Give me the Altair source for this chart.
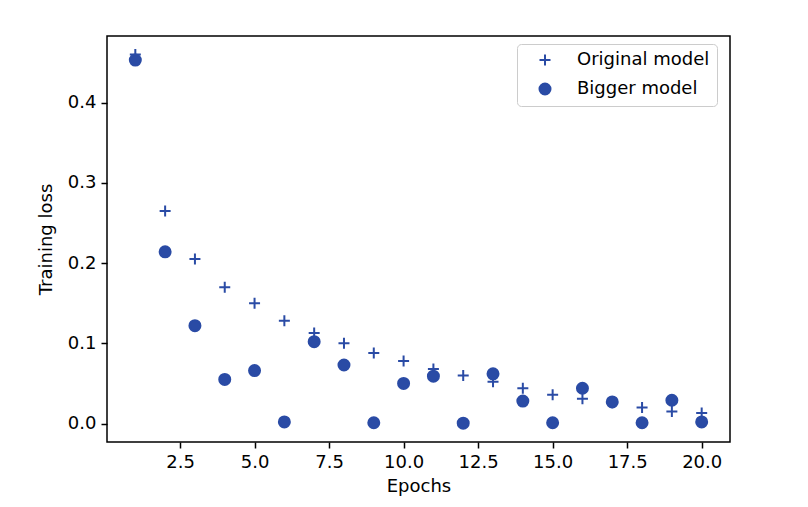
import altair as alt
import pandas as pd

epochs = list(range(1, 21))
original_loss = [0.460, 0.265, 0.205, 0.170, 0.150, 0.128, 0.113, 0.100, 0.088, 0.078,
                 0.068, 0.060, 0.052, 0.044, 0.036, 0.031, 0.026, 0.020, 0.015, 0.013]
bigger_loss = [0.453, 0.214, 0.122, 0.055, 0.066, 0.002, 0.102, 0.073, 0.001, 0.050,
               0.059, 0.0005, 0.062, 0.028, 0.001, 0.044, 0.027, 0.001, 0.029, 0.002]
series_names = ["Original model", "Bigger model"]
x_ticks = [2.5, 5.0, 7.5, 10.0, 12.5, 15.0, 17.5, 20.0]
y_ticks = [0.0, 0.1, 0.2, 0.3, 0.4]

rows = []
for e, v in zip(epochs, original_loss):
    rows.append({"Epochs": e, "loss": v, "series": series_names[0]})
for e, v in zip(epochs, bigger_loss):
    rows.append({"Epochs": e, "loss": v, "series": series_names[1]})
df = pd.DataFrame(rows)

BLUE = "#2a4ba5"
PLUS = "M-1,0L1,0M0,-1L0,1"

chart = alt.Chart(df).mark_point(filled=False, strokeWidth=2, size=121, opacity=1).encode(
    x=alt.X("Epochs:Q", title="Epochs",
            scale=alt.Scale(domain=[0.05, 20.95], nice=False, zero=False),
            axis=alt.Axis(values=x_ticks, format=".1f")),
    y=alt.Y("loss:Q", title="Training loss",
            scale=alt.Scale(domain=[-0.023, 0.483], nice=False, zero=False),
            axis=alt.Axis(values=y_ticks, format=".1f")),
    shape=alt.Shape("series:N", sort=series_names,
                    scale=alt.Scale(domain=series_names, range=[PLUS, "circle"]),
                    legend=alt.Legend(title=None)),
    fill=alt.Fill("series:N", sort=series_names,
                  scale=alt.Scale(domain=series_names, range=["transparent", BLUE]),
                  legend=alt.Legend(title=None)),
    color=alt.Color("series:N", sort=series_names,
                    scale=alt.Scale(domain=series_names, range=[BLUE, BLUE]),
                    legend=alt.Legend(title=None)),
).properties(
    width=623, height=406,
    autosize=alt.AutoSizeParams(type="none"),
    padding={"left": 107, "top": 36, "right": 78, "bottom": 65},
).configure_view(
    stroke="black", strokeWidth=1.5
).configure_axis(
    domain=False, grid=False,
    tickColor="black", tickWidth=1.5, tickSize=6,
    labelPadding=5, labelFont="DejaVu Sans", labelFontSize=18, labelColor="black",
    titleFont="DejaVu Sans", titleFontSize=18, titleFontWeight="normal", titleColor="black",
).configure_axisX(
    titlePadding=6
).configure_axisY(
    titlePadding=12
).configure_legend(
    orient="none", legendX=410, legendY=8,
    padding=7, cornerRadius=4, strokeColor="#cccccc", fillColor="white",
    labelFont="DejaVu Sans", labelFontSize=18, labelColor="black",
    symbolOffset=12, labelOffset=23, rowPadding=9,
    symbolSize=121, symbolStrokeWidth=2,
)

chart.save("out.html", embed_options={"renderer": "svg", "actions": False})
